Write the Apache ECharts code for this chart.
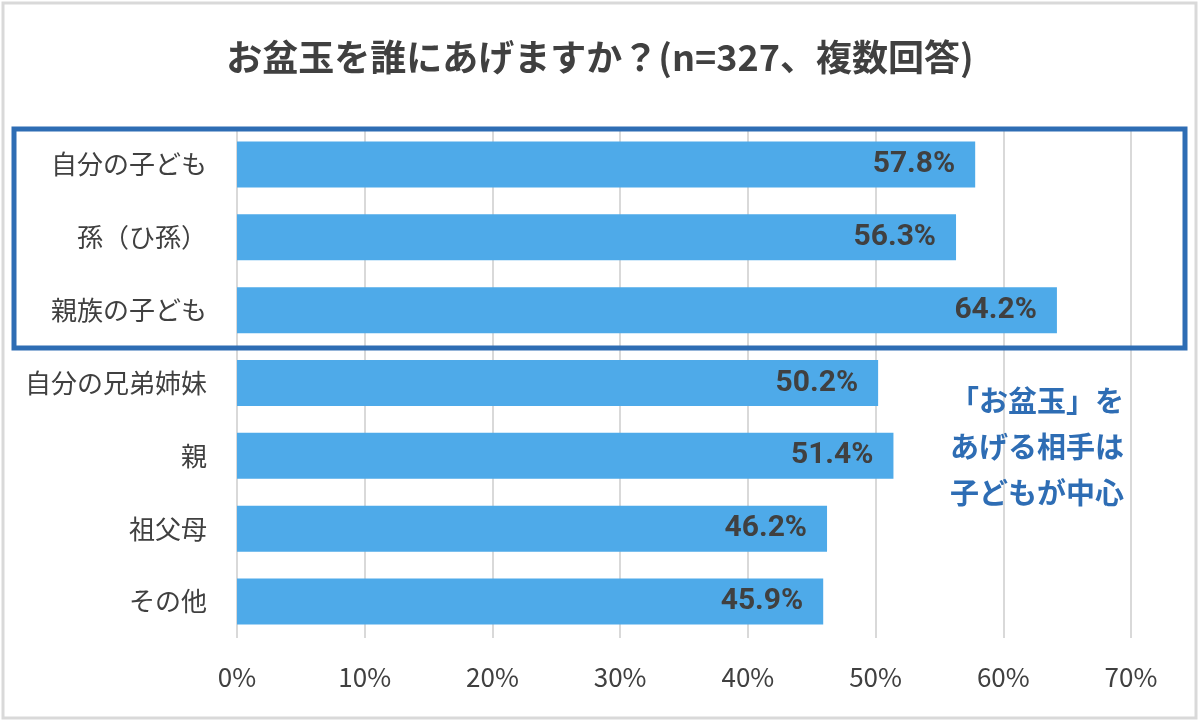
<!DOCTYPE html>
<html>
<head>
<meta charset="utf-8">
<script src="https://cdn.jsdelivr.net/npm/echarts@6/dist/echarts.min.js"></script>
<style>html,body{margin:0;padding:0;background:#fff;}#c{width:1200px;height:722px;}</style>
</head>
<body>
<div id="c"></div>
<script>
const titleText = 'お盆玉を誰にあげますか？(n=327、複数回答)';
const categories = ['自分の子ども', '孫（ひ孫）', '親族の子ども', '自分の兄弟姉妹', '親', '祖父母', 'その他'];
const values = [57.8, 56.3, 64.2, 50.2, 51.4, 46.2, 45.9];
const xTicks = [0, 10, 20, 30, 40, 50, 60, 70];
const noteLines = ['「お盆玉」を', 'あげる相手は', '子どもが中心'];

const chart = echarts.init(document.getElementById('c'));
chart.setOption({
  backgroundColor: '#ffffff',
  animation: false,
  title: {
    text: titleText,
    left: 'center',
    top: 34,
    textStyle: { fontFamily: 'Noto Sans CJK JP', fontSize: 36, fontWeight: 'bold', color: '#404040' }
  },
  grid: { left: 237, right: 69, top: 128, bottom: 84 },
  xAxis: {
    type: 'value',
    min: xTicks[0],
    max: xTicks[xTicks.length - 1],
    interval: 10,
    axisLine: { show: false },
    axisTick: { show: false },
    axisLabel: { formatter: '{value}%', margin: 26, fontFamily: 'Noto Sans CJK JP', fontSize: 26, color: '#404040' },
    splitLine: { show: true, lineStyle: { color: '#d9d9d9', width: 2 } }
  },
  yAxis: {
    type: 'category',
    data: categories,
    inverse: true,
    axisLine: { show: false },
    axisTick: { show: false },
    axisLabel: { margin: 30, fontFamily: 'Noto Sans CJK JP', fontSize: 26, color: '#404040' }
  },
  series: [{
    type: 'bar',
    data: values,
    barWidth: 46,
    itemStyle: { color: '#4eaae9' },
    label: {
      show: true,
      position: 'insideRight',
      distance: 20,
      formatter: p => p.value.toFixed(1) + '%',
      fontFamily: 'Roboto',
      fontWeight: 'bold',
      fontSize: 30,
      color: '#404040'
    }
  }],
  graphic: [
    {
      type: 'rect',
      shape: { x: 3, y: 3, width: 1193, height: 715 },
      style: { fill: 'none', stroke: '#d9d9d9', lineWidth: 3 },
      z: 100
    },
    {
      type: 'rect',
      shape: { x: 14, y: 129, width: 1171, height: 219 },
      style: { fill: 'none', stroke: '#2e6db4', lineWidth: 5 },
      z: 100
    },
    {
      type: 'text',
      right: 76,
      top: 378,
      style: {
        text: noteLines.join('\n'),
        fontFamily: 'Noto Sans CJK JP',
        fontSize: 29,
        fontWeight: 'bold',
        lineHeight: 46,
        fill: '#2e6db4',
        align: 'right'
      },
      z: 100
    }
  ]
});
</script>
</body>
</html>
